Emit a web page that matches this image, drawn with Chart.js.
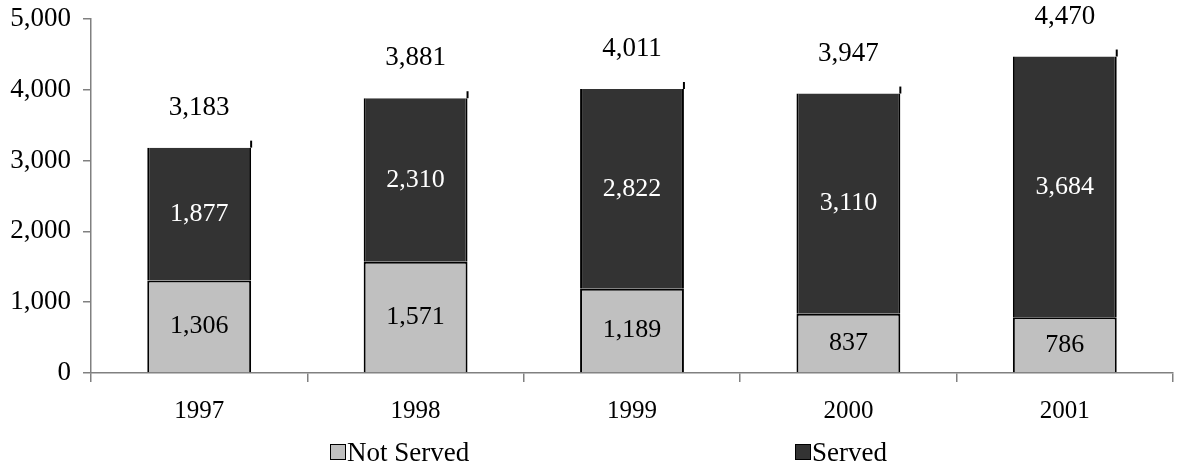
<!DOCTYPE html>
<html>
<head>
<meta charset="utf-8">
<script src="https://cdn.jsdelivr.net/npm/chart.js@4"></script>
<style>
  html, body { margin: 0; padding: 0; background: #fff; }
  #wrap { width: 1180px; height: 469px; }
</style>
</head>
<body>
<div id="wrap"><canvas id="chart" width="1180" height="469"></canvas></div>
<script>
const years = ['1997', '1998', '1999', '2000', '2001'];
const notServed = [1306, 1571, 1189, 837, 786];
const served = [1877, 2310, 2822, 3110, 3684];
const totals = [3183, 3881, 4011, 3947, 4470];
const yTicks = [0, 1000, 2000, 3000, 4000, 5000];

const FONT = '"Liberation Serif", "Times New Roman", serif';
const fmt = v => v.toLocaleString('en-US');

// value labels plus the small raised right edge on the dark bars
const barLabels = {
  id: 'barLabels',
  afterDatasetsDraw(chart) {
    const ctx = chart.ctx;
    const topMeta = chart.getDatasetMeta(1);
    ctx.save();
    ctx.textAlign = 'center';
    ctx.textBaseline = 'middle';

    topMeta.data.forEach(bar => {
      const right = bar.x + bar.width / 2;
      ctx.strokeStyle = '#000';
      ctx.lineWidth = 2;
      ctx.beginPath();
      ctx.moveTo(right, bar.y);
      ctx.lineTo(right, bar.y - 7);
      ctx.stroke();
    });

    ctx.font = '26px ' + FONT;
    chart.data.datasets.forEach((ds, i) => {
      const meta = chart.getDatasetMeta(i);
      meta.data.forEach((bar, j) => {
        ctx.fillStyle = i === 1 ? '#fff' : '#000';
        ctx.fillText(fmt(ds.data[j]), bar.x, (bar.y + bar.base) / 2);
      });
    });

    ctx.font = '27px ' + FONT;
    topMeta.data.forEach((bar, j) => {
      ctx.fillStyle = '#000';
      ctx.fillText(fmt(totals[j]), bar.x, bar.y - 40);
    });
    ctx.restore();
  }
};

// legend drawn by hand: the two entries sit far apart in the original
const legendX = [330, 795];
const spreadLegend = {
  id: 'spreadLegend',
  afterDraw(chart) {
    const ctx = chart.ctx;
    const y = 452;
    ctx.save();
    ctx.font = '27px ' + FONT;
    ctx.textBaseline = 'middle';
    ctx.textAlign = 'left';
    chart.data.datasets.forEach((ds, i) => {
      const x = legendX[i];
      ctx.fillStyle = ds.backgroundColor;
      ctx.fillRect(x, y - 8, 16, 16);
      ctx.strokeStyle = '#000';
      ctx.lineWidth = 1;
      ctx.strokeRect(x + 0.5, y - 7.5, 15, 15);
      ctx.fillStyle = '#000';
      ctx.fillText(ds.label, x + 17, y + 2);
    });
    ctx.restore();
  }
};

new Chart(document.getElementById('chart'), {
  type: 'bar',
  data: {
    labels: years,
    datasets: [
      {
        label: 'Not Served',
        data: notServed,
        backgroundColor: '#c0c0c0',
        borderColor: '#000',
        borderWidth: 2,
        barPercentage: 0.96,
        categoryPercentage: 0.5
      },
      {
        label: 'Served',
        data: served,
        backgroundColor: '#333333',
        borderColor: '#000',
        borderWidth: { left: 2, right: 2, top: 0, bottom: 0 },
        barPercentage: 0.96,
        categoryPercentage: 0.5
      }
    ]
  },
  options: {
    responsive: false,
    animation: false,
    layout: { padding: { top: 19, right: 7, left: 0, bottom: 41 } },
    plugins: {
      tooltip: { enabled: false },
      legend: { display: false }
    },
    scales: {
      x: {
        stacked: true,
        afterFit(axis) { axis.height = 55; axis.paddingLeft = 0; axis.paddingRight = 0; },
        grid: { drawOnChartArea: false, drawTicks: true, tickLength: 9, color: '#808080', lineWidth: 1.5 },
        border: { color: '#808080', width: 1.5 },
        ticks: { color: '#000', font: { family: FONT, size: 25 }, padding: 14 }
      },
      y: {
        stacked: true,
        min: 0,
        max: 5000,
        afterFit(axis) { axis.width = 91; axis.paddingTop = 0; axis.paddingBottom = 0; },
        afterBuildTicks(axis) { axis.ticks = yTicks.map(v => ({ value: v })); },
        grid: { drawOnChartArea: false, drawTicks: true, tickLength: 8, color: '#808080', lineWidth: 1.5 },
        border: { color: '#808080', width: 1.5 },
        ticks: { color: '#000', font: { family: FONT, size: 27 }, padding: 12, callback: v => fmt(v) }
      }
    }
  },
  plugins: [barLabels, spreadLegend]
});
</script>
</body>
</html>
